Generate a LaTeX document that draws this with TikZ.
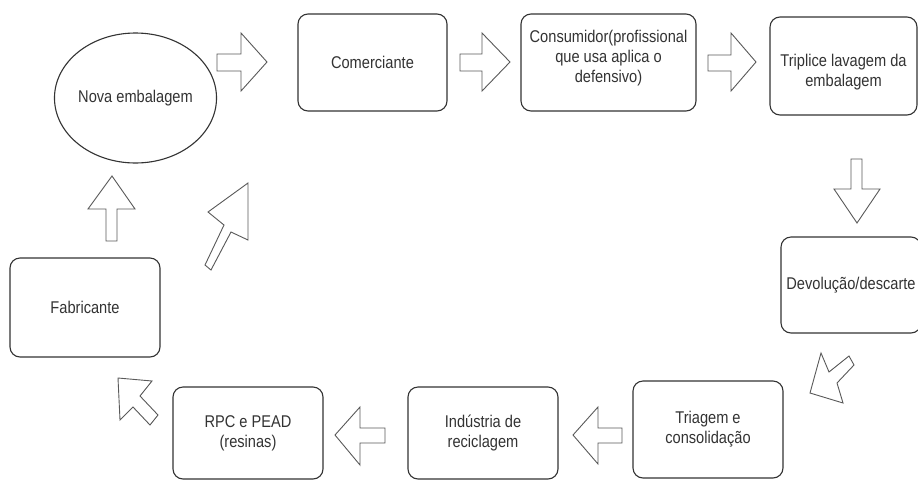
\documentclass[tikz,border=0pt]{standalone}
\usepackage{fontspec}
\setmainfont[FakeStretch=0.86]{Liberation Sans}
\usetikzlibrary{shapes.geometric}
\begin{document}
\begin{tikzpicture}[x=1pt,y=-1pt,
  txt/.style={align=center, text=black!80, font=\fontsize{17}{20}\selectfont, inner sep=0pt},
  box/.style={draw=black!80, line width=1.1pt, rounded corners=10pt, txt},
  oval/.style={draw=black!80, line width=1.1pt, ellipse, txt},
  barr/.style={draw=black!65, line width=0.9pt, line join=miter}]
\useasboundingbox (0,0) rectangle (918,480);
\fill[white] (0,0) rectangle (918,480);

% nodes
\node[oval, minimum width=151pt, minimum height=130pt] (nova) at (135.5,98) {Nova embalagem};
\node[box, minimum width=149pt, minimum height=97pt] (com) at (372.5,62.5) {Comerciante};
\node[box, minimum width=175pt, minimum height=97pt] (cons) at (608.5,62.5) {};
\node[txt] (constxt) at ([yshift=4pt]cons.center) {Consumidor(profissional\\que usa aplica o\\defensivo)};
\node[box, minimum width=147pt, minimum height=98pt] (trip) at (843.5,66) {};
\node[txt] (triptxt) at ([yshift=-6pt]trip.center) {Triplice lavagem da\\embalagem};
\node[box, minimum width=140pt, minimum height=96pt] (dev) at (851,285) {Devolução/descarte};
\node[box, minimum width=150pt, minimum height=97pt] (tri) at (708,429.5) {Triagem e\\consolidação};
\node[box, minimum width=150pt, minimum height=92pt] (ind) at (483,433) {Indústria de\\reciclagem};
\node[box, minimum width=150pt, minimum height=92pt] (rpc) at (248,433) {RPC e PEAD\\(resinas)};
\node[box, minimum width=150pt, minimum height=99pt] (fab) at (85,307.5) {Fabricante};

% block arrows
\draw[barr] (217,54) -- (241,54) -- (241,33) -- (267,62) -- (241,91) -- (241,71) -- (217,71) -- cycle;
\draw[barr] (460,54) -- (482,54) -- (482,33) -- (510,62) -- (482,91) -- (482,71) -- (460,71) -- cycle;
\draw[barr] (708,55) -- (731,55) -- (731,33) -- (756,62) -- (731,91) -- (731,71) -- (708,71) -- cycle;
\draw[barr] (851,159) -- (862,159) -- (862,189) -- (880,189) -- (857,223) -- (834,189) -- (851,189) -- cycle;
\draw[barr] (810,393) -- (821,353) -- (829,372) -- (849,356) -- (854,365) -- (837,383) -- (843,403) -- cycle;
\draw[barr] (622,428) -- (598,428) -- (598,407) -- (573,435) -- (598,464) -- (598,443) -- (622,443) -- cycle;
\draw[barr] (385,428) -- (360,428) -- (360,407) -- (335,435) -- (360,465) -- (360,443) -- (385,443) -- cycle;
\draw[barr] (118,378) -- (152,381) -- (140,396) -- (158,415) -- (150,425) -- (133,407) -- (120,420) -- cycle;
\draw[barr] (106,241) -- (106,209) -- (88,209) -- (112,176) -- (135,209) -- (117,209) -- (117,241) -- cycle;
\draw[barr] (205,265) -- (224,225) -- (208,212) -- (248,183) -- (248,240) -- (231,232) -- (211,270) -- cycle;
\end{tikzpicture}
\end{document}
